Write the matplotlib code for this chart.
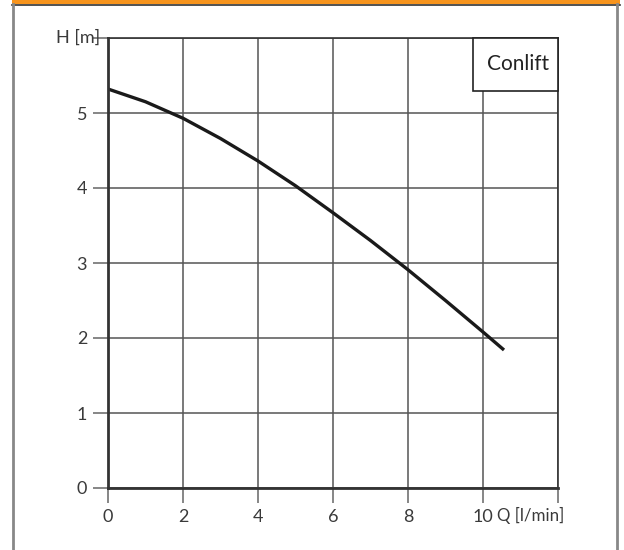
import matplotlib.pyplot as plt
import matplotlib.lines as mlines
import matplotlib.patches as mpatches

# pump curve: flow Q [l/min] vs head H [m]
q_values = [0, 1, 2, 3, 4, 5, 6, 7, 8, 9, 10, 10.56]
h_values = [5.32, 5.15, 4.93, 4.66, 4.36, 4.03, 3.67, 3.30, 2.91, 2.50, 2.08, 1.84]

x_ticks = [0, 2, 4, 6, 8, 10, 12]
x_labels = ['0', '2', '4', '6', '8', '10', '']
y_ticks = [0, 1, 2, 3, 4, 5, 6]
y_labels = ['0', '1', '2', '3', '4', '5', '']

plt.rcParams['font.family'] = ['Lato', 'DejaVu Sans']
text_col = '#3a3a3a'

fig = plt.figure(figsize=(6.24, 5.5), dpi=100)
W, H = 624, 550

# plot area in pixels: x 108..558, y 38..488
ax = fig.add_axes([108 / W, 1 - 488 / H, 450 / W, 450 / H])
ax.set_xlim(0, 12)
ax.set_ylim(0, 6)

ax.grid(True, color='#555555', linewidth=1.1)
ax.set_axisbelow(True)
for side in ['top', 'right']:
    ax.spines[side].set_color('#333333')
    ax.spines[side].set_linewidth(1.2)
for side in ['left', 'bottom']:
    ax.spines[side].set_color('#333333')
    ax.spines[side].set_linewidth(2)

ax.set_xticks(x_ticks)
ax.set_xticklabels(x_labels)
ax.set_yticks(y_ticks)
ax.set_yticklabels(y_labels)
ax.tick_params(length=11, width=1.1, color='#666666', labelcolor=text_col,
               labelsize=13, pad=4, direction='out')

ax.plot(q_values, h_values, color='#1a1a1a', linewidth=2.4, solid_capstyle='butt')

# axis titles sit where the last tick labels would be
ax.text(-0.2, 6, 'H [m]', ha='right', va='center', fontsize=13, color=text_col)
ax.text(10.38, -0.36, 'Q [l/min]', ha='left', va='center', fontsize=12.2,
        color=text_col)

# name box in the upper right corner
box_x0 = (473 - 108) / 37.5
box_y0 = (488 - 91) / 75
ax.add_patch(mpatches.Rectangle((box_x0, box_y0), 12 - box_x0, 6 - box_y0,
                                facecolor='white', edgecolor='#222222',
                                linewidth=1.2, zorder=3, clip_on=False))
ax.text(11.76, (box_y0 + 6) / 2, 'Conlift', ha='right', va='center',
        fontsize=15, color='#222222', zorder=4)

# page frame: orange strip on top, grey side rules
fig.add_artist(mpatches.Rectangle((12 / W, 1 - 4 / H), 608 / W, 4 / H,
                                  facecolor='#f7941d', edgecolor='none',
                                  transform=fig.transFigure))
fig.add_artist(mlines.Line2D([12 / W, 620 / W], [1 - 4.5 / H, 1 - 4.5 / H],
                             color='#333333', linewidth=1.2,
                             transform=fig.transFigure))
for xp in [13, 617]:
    fig.add_artist(mlines.Line2D([xp / W, xp / W], [0, 1 - 4 / H],
                                 color='#888888', linewidth=2,
                                 transform=fig.transFigure))

fig.savefig('out.png', dpi=100)
